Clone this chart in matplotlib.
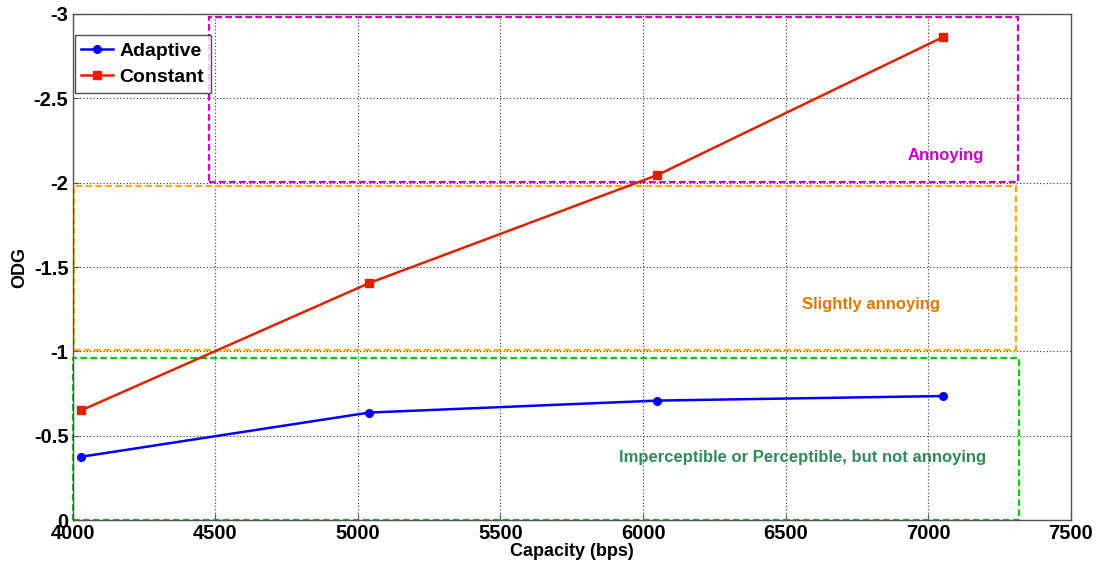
import matplotlib

matplotlib.use("Agg")
import matplotlib.pyplot as plt
from matplotlib.patches import Rectangle

plt.rcParams.update({
    "font.family": ["Liberation Sans", "DejaVu Sans"],
    "font.weight": "bold",
    "axes.labelweight": "bold",
})

# ---- data -----------------------------------------------------------------
capacity = [4030, 5040, 6050, 7050]
adaptive = [-0.375, -0.637, -0.708, -0.735]
constant = [-0.650, -1.405, -2.045, -2.862]

# quality bands: (x0, x1, y_bottom, y_top, edge colour, label, label pos, label colour)
bands = [
    (4000, 7318, 0.0, -0.96, "#00cc00",
     "Imperceptible or Perceptible, but not annoying", (6560, -0.37), "#2e8b57"),
    (4003, 7306, -1.01, -1.98, "#ffaa00",
     "Slightly annoying", (6800, -1.28), "#e07800"),
    (4477, 7313, -2.005, -2.98, "#cc00cc",
     "Annoying", (7062, -2.16), "#cc00cc"),
]

fig = plt.figure(figsize=(11.01, 5.69), dpi=100)
ax = fig.add_axes([0.066, 0.0861, 0.9067, 0.8893])

for x0, x1, yb, yt, ec, lab, (tx, ty), tc in bands:
    ax.add_patch(Rectangle((x0, yb), x1 - x0, yt - yb, fill=False,
                           edgecolor=ec, linestyle=(0, (3, 1.5)),
                           linewidth=1.6, zorder=2, clip_on=False))
    ax.text(tx, ty, lab, ha="center", va="center", color=tc,
            fontsize=12, fontweight="bold", zorder=3)

ax.plot(capacity, adaptive, color="#0000ff", marker="o", markersize=5.5,
        linewidth=1.8, label="Adaptive", zorder=4)
ax.plot(capacity, constant, color="#dd2200", marker="s", markersize=5.5,
        linewidth=1.8, label="Constant", zorder=4)

ax.set_xlim(4000, 7500)
ax.set_ylim(0, -3)
ax.set_xticks(range(4000, 7501, 500))
ax.set_yticks([0, -0.5, -1, -1.5, -2, -2.5, -3])
ax.set_yticklabels(["0", "-0.5", "-1", "-1.5", "-2", "-2.5", "-3"])
ax.tick_params(direction="in", labelsize=14.5, length=4, color="#555555", pad=3)
ax.grid(True, linestyle=(0, (1, 2)), color="#333333", linewidth=0.8)
for s in ax.spines.values():
    s.set_color("#555555")
    s.set_linewidth(1.0)

ax.set_xlabel("Capacity (bps)", fontsize=13, labelpad=0)
ax.set_ylabel("ODG", fontsize=13, labelpad=4)

leg = ax.legend(loc="upper left", bbox_to_anchor=(0.0, 0.962), fontsize=14,
                frameon=True, fancybox=False, borderaxespad=0.1,
                handlelength=1.6, handletextpad=0.35, borderpad=0.35,
                labelspacing=0.45)
leg.get_frame().set_edgecolor("#222222")
leg.get_frame().set_linewidth(1.0)

fig.savefig("out.png", dpi=100, facecolor="white")
